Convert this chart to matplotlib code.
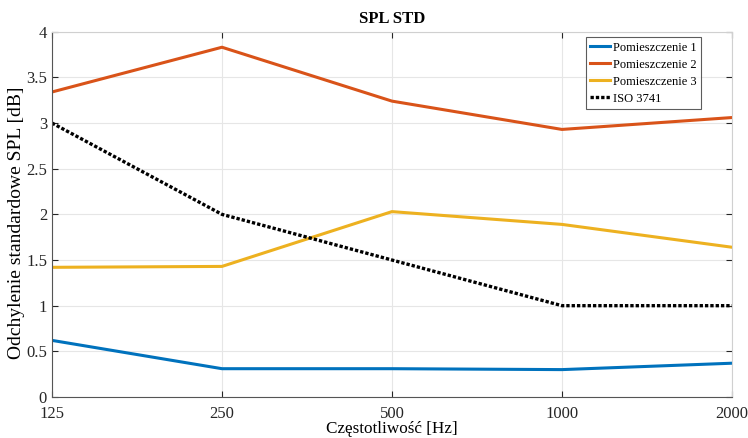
import numpy as np
import matplotlib
matplotlib.use('Agg')
import matplotlib.pyplot as plt

# frequencies (octave bands) and std values
freqs = [125, 250, 500, 1000, 2000]
room1 = [0.62, 0.31, 0.31, 0.30, 0.37]
room2 = [3.34, 3.83, 3.24, 2.93, 3.06]
room3 = [1.42, 1.43, 2.03, 1.89, 1.64]
iso = [3.0, 2.0, 1.5, 1.0, 1.0]
labels = ['Pomieszczenie 1', 'Pomieszczenie 2', 'Pomieszczenie 3', 'ISO 3741']

plt.rcParams['font.family'] = ['Liberation Serif', 'DejaVu Serif']

fig = plt.figure(figsize=(7.48, 4.38), dpi=100)
ax = fig.add_axes([0.0695, 0.0936, 0.909, 0.834])

ax.plot(freqs, room1, color='#0072BD', lw=2.2, label=labels[0])
ax.plot(freqs, room2, color='#D95319', lw=2.2, label=labels[1])
ax.plot(freqs, room3, color='#EDB120', lw=2.2, label=labels[2])
ax.plot(freqs, iso, color='black', lw=2.4, ls=(0, (1, 0.6)), label=labels[3])

ax.set_xscale('log')
ax.set_xlim(125, 2000)
ax.set_ylim(0, 4)
ax.set_xticks(freqs)
ax.set_xticklabels([str(f) for f in freqs])
ax.xaxis.set_minor_locator(matplotlib.ticker.NullLocator())
ax.set_yticks(np.arange(0, 4.01, 0.5))
ax.set_yticklabels(['0', '0.5', '1', '1.5', '2', '2.5', '3', '3.5', '4'])

ax.grid(True, color='#e6e6e6', lw=0.8)
ax.set_axisbelow(True)
ax.tick_params(direction='in', length=4, labelsize=12, colors='#262626',
               top=True, right=True, labeltop=False, labelright=False)
ax.tick_params(axis='x', pad=6.5)
for side in ['left', 'bottom']:
    ax.spines[side].set_color('#555555')
for side in ['top', 'right']:
    ax.spines[side].set_color('#d0d0d0')

ax.set_title('SPL STD', fontsize=12, fontweight='bold', pad=6)
ax.set_xlabel('Częstotliwość [Hz]', fontsize=12.3, labelpad=-1)
ax.set_ylabel('Odchylenie standardowe SPL [dB]', fontsize=14)
ax.yaxis.set_label_coords(-0.039, 0.478)

leg = ax.legend(loc='upper right', bbox_to_anchor=(0.955, 0.985), fontsize=9,
                frameon=True, fancybox=False, handlelength=1.6, handletextpad=0.25,
                labelspacing=0.4, borderpad=0.35, borderaxespad=0)
leg.get_frame().set_edgecolor('#333333')
leg.get_frame().set_linewidth(0.8)

fig.savefig('out.png', dpi=100)
